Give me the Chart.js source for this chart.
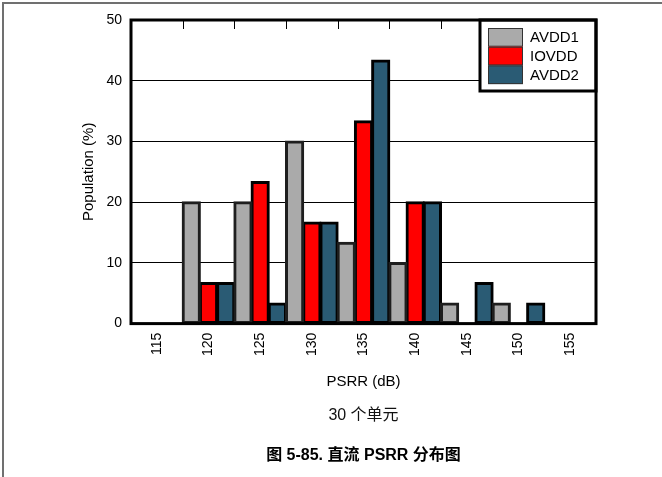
<!DOCTYPE html>
<html><head><meta charset="utf-8">
<script src="https://cdn.jsdelivr.net/npm/chart.js@4.4.0/dist/chart.umd.min.js"></script>
<style>html,body{margin:0;padding:0;background:#fff;} canvas{display:block;}</style>
</head><body>
<canvas id="c" width="662" height="477" style="width:662px;height:477px"></canvas>
<script>
const categories = ['115', '120', '125', '130', '135', '140', '145', '150', '155'];
const avdd1 = [0, 20, 20, 30, 13.33, 10, 3.33, 3.33, 0];
const iovdd = [0, 6.67, 23.33, 16.67, 33.33, 20, 0, 0, 0];
const avdd2 = [0, 6.67, 3.33, 16.67, 43.33, 20, 6.67, 3.33, 0];
const seriesNames = ['AVDD1', 'IOVDD', 'AVDD2'];
const yTickValues = [0, 10, 20, 30, 40, 50];
const xTitle = 'PSRR (dB)';
const yTitle = 'Population (%)';
const noteText = '30 个单元';
const captionText = '图 5-85. 直流 PSRR 分布图';

const FONT = "'Liberation Sans', Arial, 'Noto Sans CJK SC', sans-serif";

const decor = {
  id: 'decor',
  beforeDraw(chart) {
    const ctx = chart.ctx;
    ctx.save();
    ctx.fillStyle = '#fff';
    ctx.fillRect(0, 0, chart.width, chart.height);
    ctx.strokeStyle = '#707070';
    ctx.lineWidth = 2;
    ctx.beginPath();
    ctx.moveTo(3, chart.height);
    ctx.lineTo(3, 3);
    ctx.lineTo(chart.width, 3);
    ctx.stroke();
    ctx.restore();
  },
  afterDatasetsDraw(chart) {
    const { ctx, chartArea: a, scales: { x } } = chart;
    ctx.save();
    ctx.strokeStyle = '#000';
    ctx.lineWidth = 1;
    for (let i = 0; i < categories.length - 1; i++) {
      const bx = Math.round((x.getPixelForTick(i) + x.getPixelForTick(i + 1)) / 2) + 0.5;
      ctx.beginPath();
      ctx.moveTo(bx, a.top);
      ctx.lineTo(bx, a.top + 9);
      ctx.stroke();
    }
    const lw = 116, lh = 71;
    const lx = a.right - lw, ly = a.top;
    ctx.fillStyle = '#fff';
    ctx.fillRect(lx, ly, lw, lh);
    ctx.lineWidth = 3;
    ctx.strokeStyle = '#000';
    ctx.strokeRect(lx, ly, lw, lh);
    const sw = 35, sh = 18.7;
    chart.data.datasets.forEach((ds, i) => {
      const sy = ly + 8 + i * sh;
      ctx.fillStyle = ds.backgroundColor;
      ctx.fillRect(lx + 8, sy, sw, sh);
      ctx.lineWidth = 1;
      ctx.strokeStyle = '#333';
      ctx.strokeRect(lx + 8.5, sy + 0.5, sw - 1, sh - 1);
      ctx.fillStyle = '#000';
      ctx.font = '15px ' + FONT;
      ctx.textBaseline = 'middle';
      ctx.textAlign = 'left';
      ctx.fillText(ds.label, lx + 50, sy + sh / 2 + 1);
    });
    ctx.lineWidth = 3;
    ctx.strokeStyle = '#000';
    ctx.strokeRect(a.left, a.top, a.right - a.left, a.bottom - a.top);
    ctx.restore();
  }
};

const barCommon = {
  borderColor: '#000',
  borderWidth: 3,
  inflateAmount: 1,
  borderSkipped: false,
  barPercentage: 1,
  categoryPercentage: 1
};

new Chart(document.getElementById('c'), {
  type: 'bar',
  data: {
    labels: categories,
    datasets: [
      Object.assign({ label: seriesNames[0], data: avdd1, backgroundColor: '#AAAAAA' }, barCommon, { borderColor: '#1e1e1e' }),
      Object.assign({ label: seriesNames[1], data: iovdd, backgroundColor: '#FF0000' }, barCommon),
      Object.assign({ label: seriesNames[2], data: avdd2, backgroundColor: '#2A5B74' }, barCommon)
    ]
  },
  options: {
    responsive: false,
    animation: false,
    devicePixelRatio: 1,
    events: [],
    layout: { padding: { top: 20, right: 66, left: 0, bottom: 0 } },
    plugins: {
      legend: { display: false },
      tooltip: { enabled: false },
      subtitle: {
        display: true, position: 'bottom', fullSize: false, text: noteText, color: '#111',
        font: { family: FONT, size: 16, weight: 'normal', lineHeight: 1.2 },
        padding: { top: 10, bottom: 10 }
      },
      title: {
        display: true, position: 'bottom', fullSize: false, text: captionText, color: '#000',
        font: { family: FONT, size: 16, weight: 'bold', lineHeight: 1.2 },
        padding: { top: 11, bottom: 12 }
      }
    },
    scales: {
      x: {
        type: 'category',
        offset: true,
        grid: { display: false, drawTicks: false },
        border: { display: false },
        ticks: {
          color: '#000', font: { family: FONT, size: 14 },
          minRotation: 90, maxRotation: 90, padding: 9, autoSkip: false
        },
        title: {
          display: true, text: xTitle, color: '#000',
          font: { family: FONT, size: 15 }, padding: { top: 0, bottom: 5 }
        },
        afterFit(s) { s.height = 72; }
      },
      y: {
        min: 0, max: 50,
        afterBuildTicks(s) { s.ticks = yTickValues.map(v => ({ value: v })); },
        grid: { color: '#000', lineWidth: 1, drawTicks: false },
        border: { display: false },
        ticks: { color: '#000', font: { family: FONT, size: 14 }, padding: 9 },
        title: {
          display: true, text: yTitle, color: '#000',
          font: { family: FONT, size: 15 }, padding: { top: 80, bottom: 0 }
        },
        afterFit(s) { s.width = 131; }
      }
    }
  },
  plugins: [decor]
});
</script>
</body></html>
